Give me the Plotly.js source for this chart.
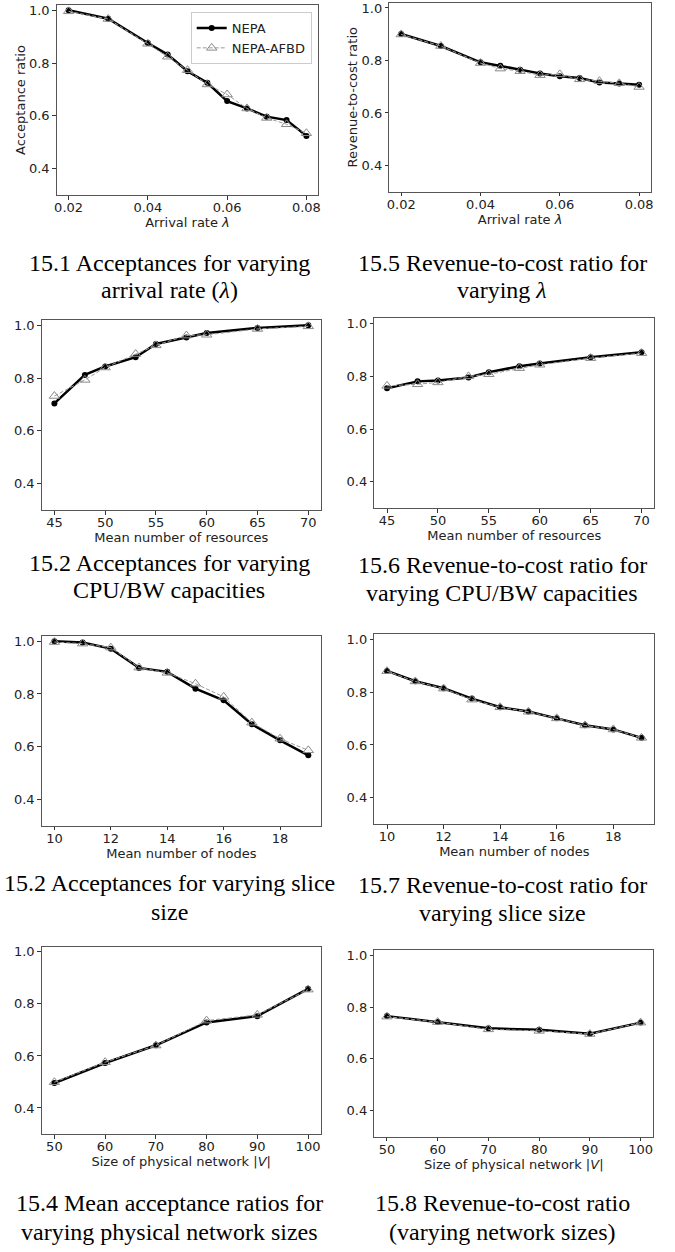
<!DOCTYPE html>
<html>
<head>
<meta charset="utf-8">
<script src="https://cdn.plot.ly/plotly-3.0.1.min.js"></script>
<style>
html,body{margin:0;padding:0;background:#fff;}
#chart{width:675px;height:1252px;}
</style>
</head>
<body>
<div id="chart"></div>
<script>
// ---------- data ----------
const lambdaX = [0.02, 0.03, 0.04, 0.045, 0.05, 0.055, 0.06, 0.065, 0.07, 0.075, 0.08];
const accLambdaNepa = [1.0, 0.968, 0.876, 0.832, 0.769, 0.725, 0.656, 0.628, 0.597, 0.584, 0.524];
const accLambdaAfbd = [0.996, 0.967, 0.873, 0.824, 0.773, 0.719, 0.681, 0.628, 0.592, 0.568, 0.534];
const rcLambdaNepa = [0.901, 0.855, 0.793, 0.780, 0.765, 0.750, 0.740, 0.733, 0.716, 0.712, 0.707];
const rcLambdaAfbd = [0.899, 0.855, 0.790, 0.769, 0.759, 0.744, 0.747, 0.728, 0.721, 0.713, 0.699];

const resX = [45, 48, 50, 53, 55, 58, 60, 65, 70];
const accResNepa = [0.704, 0.812, 0.844, 0.879, 0.929, 0.954, 0.971, 0.990, 1.0];
const accResAfbd = [0.732, 0.793, 0.840, 0.891, 0.924, 0.961, 0.964, 0.986, 0.996];
const rcResNepa = [0.755, 0.781, 0.784, 0.796, 0.816, 0.838, 0.849, 0.872, 0.891];
const rcResAfbd = [0.764, 0.770, 0.777, 0.800, 0.808, 0.831, 0.844, 0.869, 0.888];

const nodesX = [10, 11, 12, 13, 14, 15, 16, 17, 18, 19];
const accNodesNepa = [1.0, 0.995, 0.972, 0.899, 0.884, 0.820, 0.776, 0.685, 0.624, 0.567];
const accNodesAfbd = [0.997, 0.991, 0.976, 0.900, 0.880, 0.839, 0.789, 0.691, 0.630, 0.586];
const rcNodesNepa = [0.881, 0.842, 0.815, 0.776, 0.743, 0.727, 0.701, 0.675, 0.659, 0.627];
const rcNodesAfbd = [0.880, 0.841, 0.814, 0.772, 0.743, 0.726, 0.701, 0.674, 0.659, 0.627];

const netX = [50, 60, 70, 80, 90, 100];
const accNetNepa = [0.496, 0.573, 0.641, 0.729, 0.753, 0.858];
const accNetAfbd = [0.499, 0.576, 0.640, 0.736, 0.758, 0.855];
const rcNetNepa = [0.765, 0.742, 0.718, 0.712, 0.697, 0.740];
const rcNetAfbd = [0.763, 0.742, 0.714, 0.708, 0.696, 0.740];

const seriesNames = ["NEPA", "NEPA-AFBD"];
const yTicks = [0.4, 0.6, 0.8, 1.0];
const yTickText = ["0.4", "0.6", "0.8", "1.0"];
const lambdaTicks = [0.02, 0.04, 0.06, 0.08];
const resTicks = [45, 50, 55, 60, 65, 70];
const nodesTicks = [10, 12, 14, 16, 18];
const netTicks = [50, 60, 70, 80, 90, 100];

const xTitles = ["Arrival rate <i>λ</i>", "Mean number of resources", "Mean number of nodes", "Size of physical network |<i>V</i>|"];
const yTitles = ["Acceptance ratio", "Revenue-to-cost ratio"];

const captions = [
  ["15.1 Acceptances for varying", "arrival rate (<i>λ</i>)"],
  ["15.5 Revenue-to-cost ratio for", "varying <i>λ</i>"],
  ["15.2 Acceptances for varying", "CPU/BW capacities"],
  ["15.6 Revenue-to-cost ratio for", "varying CPU/BW capacities"],
  ["15.2 Acceptances for varying slice", "size"],
  ["15.7 Revenue-to-cost ratio for", "varying slice size"],
  ["15.4 Mean acceptance ratios for", "varying physical network sizes"],
  ["15.8 Revenue-to-cost ratio", "(varying network sizes)"]
];

// ---------- panel definitions (layout only) ----------
const W = 675, H = 1252;
const panels = [
  {x: lambdaX, a: accLambdaNepa, b: accLambdaAfbd, ticks: lambdaTicks, xr: [0.017, 0.083], xt: xTitles[0], yt: yTitles[0], box: [56.7, 318.3, 5, 195], cap: captions[0], cy: [263, 290], cx: 169},
  {x: lambdaX, a: rcLambdaNepa, b: rcLambdaAfbd, ticks: lambdaTicks, xr: [0.017, 0.083], xt: xTitles[0], yt: yTitles[1], box: [389.3, 651, 2.7, 191.7], cap: captions[1], cy: [263, 290], cx: 502},
  {x: resX, a: accResNepa, b: accResAfbd, ticks: resTicks, xr: [43.75, 71.25], xt: xTitles[1], yt: null, box: [41.7, 321, 320, 510], cap: captions[2], cy: [563, 590], cx: 169},
  {x: resX, a: rcResNepa, b: rcResAfbd, ticks: resTicks, xr: [43.75, 71.25], xt: xTitles[1], yt: null, box: [374.3, 654.3, 318.3, 508.3], cap: captions[3], cy: [565, 593], cx: 502},
  {x: nodesX, a: accNodesNepa, b: accNodesAfbd, ticks: nodesTicks, xr: [9.55, 19.45], xt: xTitles[2], yt: null, box: [41.7, 321, 636, 825.7], cap: captions[4], cy: [883, 912], cx: 169},
  {x: nodesX, a: rcNodesNepa, b: rcNodesAfbd, ticks: nodesTicks, xr: [9.55, 19.45], xt: xTitles[2], yt: null, box: [374.3, 654.3, 634.3, 824], cap: captions[5], cy: [885, 913], cx: 502},
  {x: netX, a: accNetNepa, b: accNetAfbd, ticks: netTicks, xr: [47.5, 102.5], xt: xTitles[3], yt: null, box: [41.7, 320.7, 946.7, 1134], cap: captions[6], cy: [1203, 1232], cx: 169},
  {x: netX, a: rcNetNepa, b: rcNetAfbd, ticks: netTicks, xr: [47.5, 102.5], xt: xTitles[3], yt: null, box: [374.3, 653.3, 950, 1136.7], cap: captions[7], cy: [1203, 1232], cx: 502}
];

const tickFont = {family: "DejaVu Sans", size: 13, color: "#222"};
const titleFont = {family: "DejaVu Sans", size: 13, color: "#222"};
const data = [];
const layout = {
  width: W, height: H,
  margin: {l: 0, r: 0, t: 0, b: 0},
  paper_bgcolor: "#fff", plot_bgcolor: "#fff",
  showlegend: true,
  legend: {
    x: 311.7 / W, y: 1 - 12.0 / H, xanchor: "right", yanchor: "top",
    bgcolor: "rgba(255,255,255,0.85)", bordercolor: "#ccc", borderwidth: 1,
    font: {family: "DejaVu Sans", size: 13, color: "#222"},
    tracegroupgap: 0
  },
  annotations: []
};

panels.forEach((p, i) => {
  const n = i + 1;
  const xa = n === 1 ? "xaxis" : "xaxis" + n;
  const ya = n === 1 ? "yaxis" : "yaxis" + n;
  const xref = n === 1 ? "x" : "x" + n;
  const yref = n === 1 ? "y" : "y" + n;

  data.push({
    x: p.x, y: p.a, xaxis: xref, yaxis: yref, name: seriesNames[0],
    type: "scatter", mode: "lines+markers",
    line: {color: "#000", width: 2.5},
    marker: {symbol: "circle", size: 6, color: "#000"},
    showlegend: n === 1, cliponaxis: false
  });
  data.push({
    x: p.x, y: p.b, xaxis: xref, yaxis: yref, name: seriesNames[1],
    type: "scatter", mode: "lines+markers",
    line: {color: "#9a9a9a", width: 1, dash: "4px,2px"},
    marker: {symbol: "triangle-up-open", size: 9, color: "#8a8a8a", line: {width: 1, color: "#8a8a8a"}},
    showlegend: n === 1, cliponaxis: false
  });

  const [l, r, t, b] = p.box;
  layout[xa] = {
    domain: [l / W, r / W], range: p.xr, anchor: yref,
    tickvals: p.ticks, tickfont: tickFont,
    ticks: "outside", ticklen: 3.5, tickcolor: "#333", tickwidth: 1,
    ticklabelstandoff: -3,
    showline: true, linecolor: "#555", linewidth: 1, mirror: true,
    showgrid: false, zeroline: false, fixedrange: true,
    title: {text: p.xt, font: titleFont, standoff: 1}
  };
  layout[ya] = {
    domain: [1 - b / H, 1 - t / H], range: [0.3, 1.02], anchor: xref,
    tickvals: yTicks, ticktext: yTickText, tickfont: tickFont,
    ticks: "outside", ticklen: 3.5, tickcolor: "#333", tickwidth: 1,
    showline: true, linecolor: "#555", linewidth: 1, mirror: true,
    showgrid: false, zeroline: false, fixedrange: true
  };
  if (p.yt) {
    layout[ya].title = {text: p.yt, font: titleFont, standoff: 0};
  }

  p.cap.forEach((txt, k) => {
    layout.annotations.push({
      xref: "paper", yref: "paper", x: p.cx / W, y: 1 - p.cy[k] / H,
      xanchor: "center", yanchor: "middle", showarrow: false,
      text: txt, font: {family: "Liberation Serif", size: 24, color: "#000"}
    });
  });
});

Plotly.newPlot("chart", data, layout, {displayModeBar: false, staticPlot: true});
</script>
</body>
</html>
